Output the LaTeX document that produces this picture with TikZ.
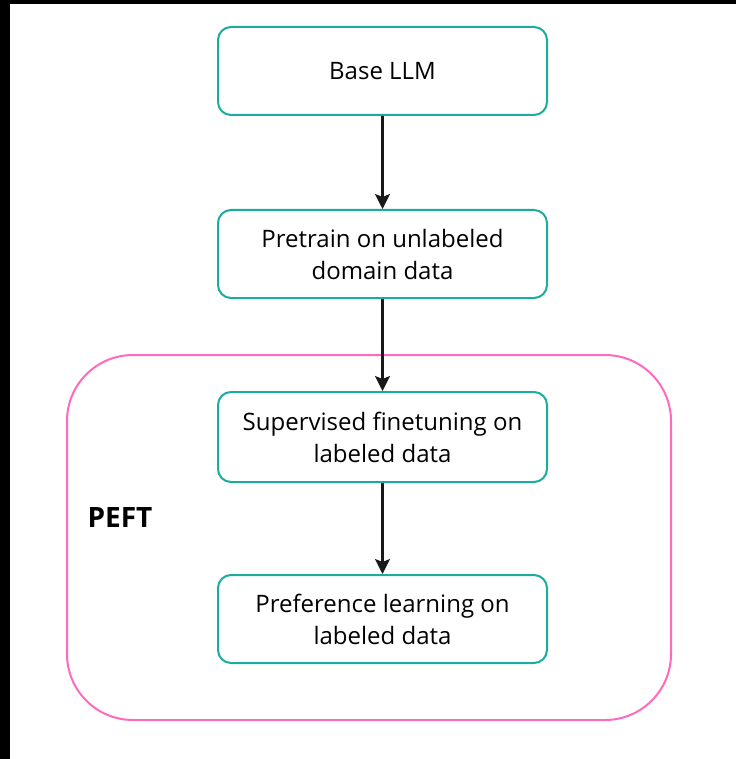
\documentclass[tikz,border=0pt]{standalone}
\usepackage{fontspec}
\setmainfont{Open Sans}
\usetikzlibrary{arrows.meta}
\definecolor{stageteal}{RGB}{26,173,159}
\definecolor{peftpink}{RGB}{255,105,190}
\begin{document}
\begin{tikzpicture}[x=1pt,y=-1pt,
  stage/.style={draw=stageteal, line width=2pt, rounded corners=13pt,
    minimum width=329pt, minimum height=88pt, align=center, inner sep=0pt,
    font=\fontsize{24}{32}\selectfont},
  flow/.style={-{Stealth[length=15pt,width=15pt,inset=3pt]}, line width=2.2pt, black!90},
  group/.style={draw=peftpink, line width=2pt, rounded corners=66pt,
    minimum width=604pt, minimum height=365pt, inner sep=0pt}]
% canvas with dark strips along the top and left
\fill[black] (0,0) rectangle (736,759);
\fill[white] (10,4) rectangle (736,759);
\useasboundingbox (0,0) rectangle (736,759);

% PEFT group
\node[group] (peft) at (369,537.5) {};
\node[anchor=west, font=\bfseries\fontsize{28}{32}\selectfont] (peftlabel) at (84,518) {PEFT};

% pipeline stages
\node[stage] (base) at (382.5,71) {Base LLM};
\node[stage] (pre) at (382.5,254) {Pretrain on unlabeled\\domain data};
\node[stage, minimum height=90pt] (sft) at (382.5,437) {Supervised finetuning on\\labeled data};
\node[stage] (pref) at (382.5,619) {Preference learning on\\labeled data};

% connectors
\draw[flow] (base) -- (pre);
\draw[flow] (pre) -- (sft);
\draw[flow] (sft) -- (pref);
\end{tikzpicture}
\end{document}
